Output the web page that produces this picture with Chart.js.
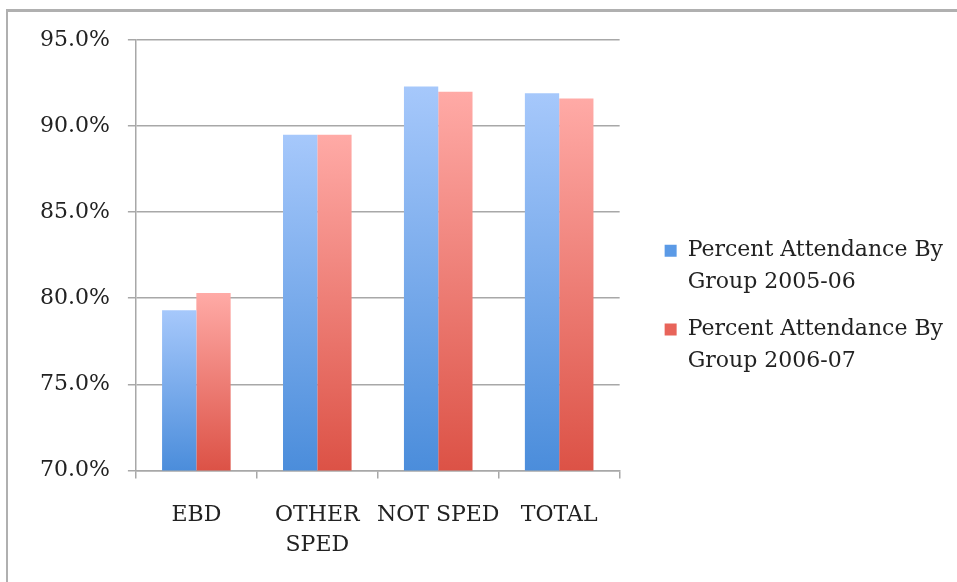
<!DOCTYPE html>
<html>
<head>
<meta charset="utf-8">
<script src="https://cdn.jsdelivr.net/npm/chart.js@4/dist/chart.umd.min.js"></script>
<style>
  html, body { margin: 0; padding: 0; background: #fff; }
  #wrap { position: relative; width: 957px; height: 582px; overflow: hidden; }
  #frame { position: absolute; left: 6px; top: 9px; right: -10px; bottom: -10px;
           border-top: 3px solid #b0b0b0; border-left: 2px solid #b0b0b0; }
  canvas { position: absolute; left: 0; top: 0; }
</style>
</head>
<body>
<div id="wrap">
  <div id="frame"></div>
  <canvas id="c" width="957" height="582"></canvas>
</div>
<script>
// Attendance rates by student group
const categories = ['EBD', ['OTHER', 'SPED'], 'NOT SPED', 'TOTAL'];
const seriesNames = ['Percent Attendance By Group 2005-06', 'Percent Attendance By Group 2006-07'];
const attendance0506 = [79.3, 89.5, 92.3, 91.9];
const attendance0607 = [80.3, 89.5, 92.0, 91.6];
const yTicks = [70, 75, 80, 85, 90, 95];

const FONT = { family: '"DejaVu Serif", serif', size: 22, lineHeight: 1.4 };
const LEGEND_FONT = { family: '"DejaVu Serif", serif', size: 22, lineHeight: 1.45 };
const GRID = '#a8a8a8';

// vertical shading for each bar: light at the top, deeper at the base
function barGradient(light, dark) {
  return (ctx) => {
    const chart = ctx.chart;
    const y = chart.scales.y;
    if (!chart.chartArea || !y || ctx.raw === undefined) return dark;
    const top = y.getPixelForValue(ctx.raw);
    const bottom = y.bottom;
    if (!isFinite(top) || top >= bottom) return dark;
    const g = chart.ctx.createLinearGradient(0, top, 0, bottom);
    g.addColorStop(0, light);
    g.addColorStop(1, dark);
    return g;
  };
}

new Chart(document.getElementById('c'), {
  type: 'bar',
  data: {
    labels: categories,
    datasets: [
      { label: seriesNames[0], data: attendance0506,
        backgroundColor: barGradient('#a6c8fb', '#4b8ddb'),
        categoryPercentage: 0.567, barPercentage: 1.0 },
      { label: seriesNames[1], data: attendance0607,
        backgroundColor: barGradient('#ffaaa6', '#dc5246'),
        categoryPercentage: 0.567, barPercentage: 1.0 }
    ]
  },
  options: {
    responsive: false,
    animation: false,
    layout: { padding: { left: 22, top: 40, right: 4, bottom: 0 } },
    plugins: {
      tooltip: { enabled: false },
      legend: {
        position: 'right',
        align: 'center',
        maxWidth: 320,
        labels: {
          font: LEGEND_FONT,
          color: '#222',
          boxWidth: 12,
          boxHeight: 12,
          padding: 15,
          generateLabels: (chart) => {
            const fills = ['#5b9ae6', '#e8645a'];
            return chart.data.datasets.map((ds, i) => {
              const words = ds.label.split(' ');
              return {
                text: [words.slice(0, 3).join(' '), words.slice(3).join(' ')],
                fillStyle: fills[i],
                strokeStyle: fills[i],
                lineWidth: 0,
                hidden: false,
                datasetIndex: i,
                fontColor: '#222'
              };
            });
          }
        }
      }
    },
    scales: {
      x: {
        grid: { display: true, drawOnChartArea: false, drawTicks: true, tickLength: 8, color: GRID, lineWidth: 1.5 },
        border: { color: GRID, width: 1.5 },
        ticks: { font: FONT, color: '#222', padding: 21, maxRotation: 0, autoSkip: false }
      },
      y: {
        min: yTicks[0],
        max: yTicks[yTicks.length - 1],
        afterBuildTicks: (axis) => { axis.ticks = yTicks.map(v => ({ value: v })); },
        grid: { color: GRID, lineWidth: 1.5, tickLength: 8 },
        border: { color: GRID, width: 1.5 },
        ticks: { font: FONT, color: '#222', padding: 18,
                 callback: (v) => Number(v).toFixed(1) + '%' }
      },
      // empty right-hand axis that only keeps a gap between plot and legend
      gap: {
        position: 'right',
        grid: { display: false },
        border: { display: false },
        ticks: { display: false },
        afterFit: (axis) => { axis.width = 30; }
      }
    }
  }
});
</script>
</body>
</html>
